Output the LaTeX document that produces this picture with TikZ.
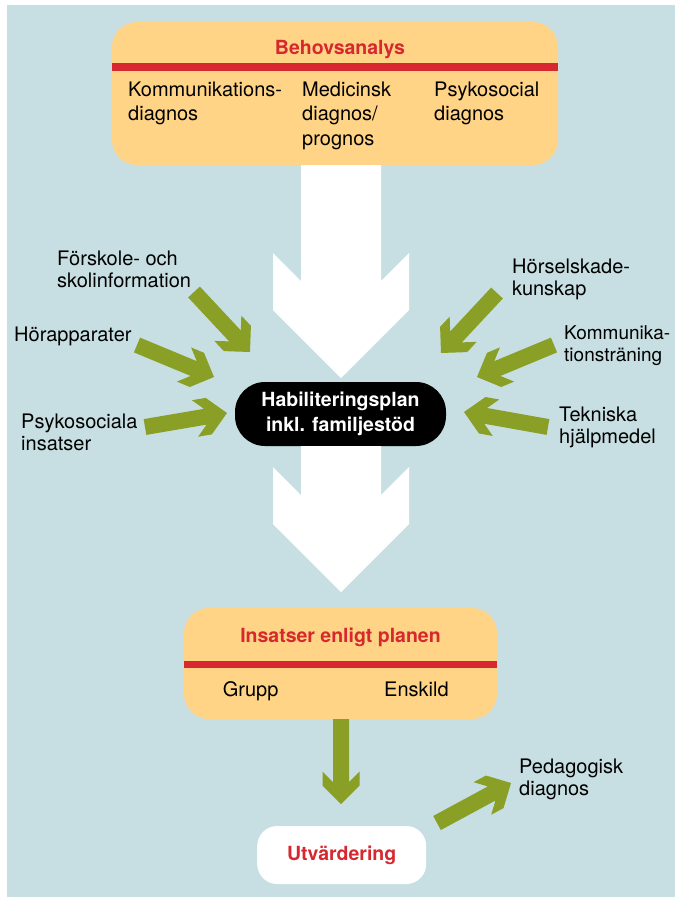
\documentclass[tikz,border=0pt]{standalone}
\usepackage{fontspec}
\setmainfont{TeX Gyre Heros}
\usetikzlibrary{calc}
\definecolor{hbbg}{HTML}{C7DFE2}
\definecolor{hbsand}{HTML}{FFD486}
\definecolor{hbred}{HTML}{D6282E}
\definecolor{hbgreen}{HTML}{8A9F25}
% #1 fill, #2 tail, #3 tip, #4 shaft half width, #5 head half width, #6 wing length
\newcommand{\fatarrow}[6][]{%
  \fill[#1] let \p1=($(#2)-(#3)$), \n1={atan2(\y1,\x1)}, \n2={veclen(\x1,\y1)} in
    [shift={(#3)}, rotate=\n1]
    (0,0) -- (#5,#5) -- ({#5+#6},#5) -- ({#6+#4},#4) -- (\n2,#4)
    -- (\n2,-#4) -- ({#6+#4},-#4) -- ({#5+#6},-#5) -- (#5,-#5) -- cycle;}

\begin{document}
\begin{tikzpicture}[x=1pt, y=-1pt,
    every node/.style={inner sep=0pt, font=\fontsize{20}{22}\selectfont},
    panel/.style={fill=hbsand, rounded corners=25pt},
    head/.style={anchor=base, text=hbred, font=\bfseries\fontsize{19.5}{22}\selectfont},
    col/.style={anchor=north west, align=left, font=\fontsize{20}{24.5}\selectfont},
    lbl/.style={anchor=north west, align=left},
    bar/.style={hbred, line width=8pt},
  ]
  \useasboundingbox (0,0) rectangle (675,898);
  \fill[hbbg] (7,5) rectangle (675,897);

  \node[panel, minimum width=446pt, minimum height=143pt] (needs) at (335,93.5) {};
  \node[head] (needst) at (340,54) {Behovsanalys};
  \coordinate (bar1) at (0,66.5);
  \draw[bar] (needs.west |- bar1) -- (needs.east |- bar1);
  \node[col] (comm) at (128,81.5) {Kommunikations-\\diagnos};
  \node[col] (med) at (302,81.5) {Medicinsk\\diagnos/\\prognos};
  \node[col] (psy) at (434,81.5) {Psykosocial\\diagnos};

  \node[fill=black, text=white, align=center, rounded corners=30pt,
        minimum width=211pt, minimum height=64pt,
        font=\bfseries\fontsize{19.5}{24.5}\selectfont]
    (plan) at (340.5,414) {Habiliteringsplan\\inkl. familjestöd};

  \node[panel, minimum width=313pt, minimum height=111pt] (acts) at (340.5,663.5) {};
  \node[head] (actst) at (340.5,642.7) {Insatser enligt planen};
  \coordinate (bar2) at (0,664.5);
  \draw[bar, line width=7.5pt] (acts.west |- bar2) -- (acts.east |- bar2);
  \node[anchor=base west] (grp) at (222.7,696.7) {Grupp};
  \node[anchor=base west] (ind) at (384,696.7) {Enskild};

  \node[fill=white, rounded corners=20pt, minimum width=169pt, minimum height=58pt,
        text=hbred, font=\bfseries\fontsize{19.5}{22}\selectfont]
    (eval) at (341.7,855) {Utvärdering};

  \coordinate (in1) at (341,378);
  \coordinate (in2) at (341,592);
  \fatarrow[white]{needs.south -| in1}{in1}{40}{68}{57}
  \fatarrow[white]{plan.south -| in2}{in2}{40}{68}{57}

  \node[lbl] (l1) at (57,250.7) {Förskole- och\\skolinformation};
  \node[lbl] (l2) at (14,326.7) {Hörapparater};
  \node[lbl] (l3) at (21,413.3) {Psykosociala\\insatser};
  \node[lbl] (r1) at (512,258.3) {Hörselskade-\\kunskap};
  \node[lbl, font=\fontsize{19}{22}\selectfont] (r2) at (564,325.5) {Kommunika-\\tionsträning};
  \node[lbl] (r3) at (559,406.7) {Tekniska\\hjälpmedel};
  \node[lbl] (r4) at (519,758.3) {Pedagogisk\\diagnos};

  \coordinate (t1) at (194,292);   \coordinate (h1) at (250,352);
  \coordinate (t2) at (137,345);   \coordinate (h2) at (214,377);
  \coordinate (t3) at (145,427);   \coordinate (h3) at (227,413);
  \coordinate (t4) at (497,293);   \coordinate (h4) at (441,353);
  \coordinate (t5) at (554,345);   \coordinate (h5) at (477,377);
  \coordinate (t6) at (548,427);   \coordinate (h6) at (464,412);
  \coordinate (h7) at (341,804);
  \coordinate (t8) at (437,823);   \coordinate (h8) at (511,783);

  \foreach \i in {1,...,6}{
    \fatarrow[hbgreen]{t\i}{h\i}{8}{18.5}{14}
  }
  \fatarrow[hbgreen]{acts.south -| h7}{h7}{8}{18.5}{14}
  \fatarrow[hbgreen]{t8}{h8}{8}{18.5}{14}
\end{tikzpicture}
\end{document}
